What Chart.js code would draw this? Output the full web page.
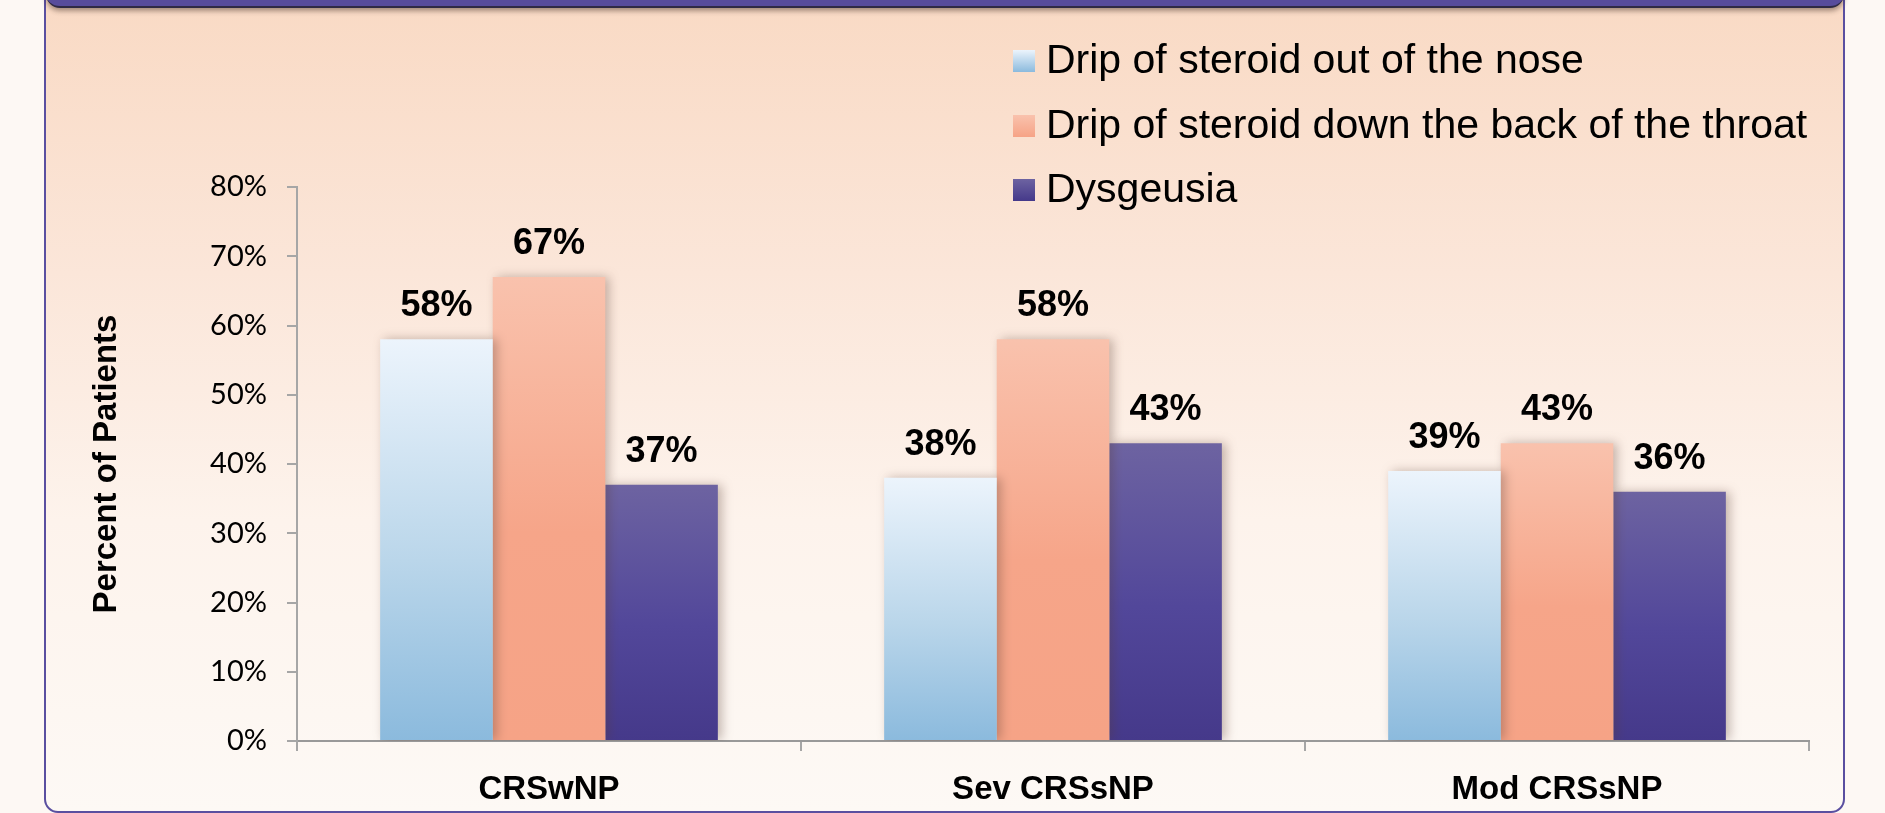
<!DOCTYPE html>
<html>
<head>
<meta charset="utf-8">
<script src="https://cdn.jsdelivr.net/npm/chart.js@4/dist/chart.umd.min.js"></script>
<style>
  html, body { margin: 0; padding: 0; }
  body { width: 1885px; height: 813px; overflow: hidden; background: #fdf8f4; position: relative; }
  .box {
    position: absolute; left: 44px; top: -20px; width: 1797px; height: 829px;
    border: 2.5px solid #5a4fa0; border-radius: 14px;
    background: linear-gradient(to bottom, #f9d9c3 0%, #fbe6d9 35%, #fdf3ec 65%, #fdf9f5 100%);
  }
  .header {
    position: absolute; left: 46px; top: -24px; width: 1798px; height: 30px;
    background: #574c9c; border-radius: 14px;
    border-bottom: 2px solid #2f2a45;
    box-shadow: 0 3px 5px rgba(60, 40, 30, 0.45);
  }
  .wrap { position: absolute; left: 0; top: 0; width: 1885px; height: 813px; }
</style>
</head>
<body>
<div class="box"></div>
<div class="header"></div>
<div class="wrap"><canvas id="myChart"></canvas></div>
<script>
const categories = ['CRSwNP', 'Sev CRSsNP', 'Mod CRSsNP'];
const seriesNames = ['Drip of steroid out of the nose', 'Drip of steroid down the back of the throat', 'Dysgeusia'];
const noseDrip = [58, 38, 39];
const throatDrip = [67, 58, 43];
const dysgeusia = [37, 43, 36];
const yTicks = [0, 10, 20, 30, 40, 50, 60, 70, 80];

// top / middle / bottom colours of each bar gradient
const blueStops = ['#ecf4fc', '#bad6ea', '#8bbadd'];
const orangeStops = ['#f9c2ad', '#f6a589', '#f6a386'];
const purpleStops = ['#6d63a1', '#52479a', '#45398a'];

function barGradient(stops) {
  return function(ctx) {
    const chart = ctx.chart;
    if (!chart.chartArea || ctx.type !== 'data') return stops[2];
    const y = chart.scales.y;
    const yTop = y.getPixelForValue(ctx.raw);
    const yBot = y.getPixelForValue(0);
    const g = chart.ctx.createLinearGradient(0, yTop, 0, yBot);
    g.addColorStop(0, stops[0]);
    g.addColorStop(0.55, stops[1]);
    g.addColorStop(1, stops[2]);
    return g;
  };
}

// soft drop shadow under each dataset's bars
const shadowPlugin = {
  id: 'shadow',
  beforeDatasetDraw(chart) {
    const c = chart.ctx;
    c.save();
    c.shadowColor = 'rgba(90, 60, 50, 0.35)';
    c.shadowBlur = 10;
    c.shadowOffsetX = 4;
    c.shadowOffsetY = 0;
  },
  afterDatasetDraw(chart) {
    chart.ctx.restore();
  }
};

const valueLabels = {
  id: 'valueLabels',
  afterDatasetsDraw(chart) {
    const c = chart.ctx;
    c.save();
    c.font = 'bold 36px "Liberation Sans", Arial, sans-serif';
    c.fillStyle = '#000';
    c.textAlign = 'center';
    c.textBaseline = 'alphabetic';
    chart.data.datasets.forEach(function(ds, i) {
      chart.getDatasetMeta(i).data.forEach(function(bar, j) {
        c.fillText(ds.data[j] + '%', bar.x, bar.y - 23);
      });
    });
    c.restore();
  }
};

const floatLegend = {
  id: 'floatLegend',
  afterDraw(chart) {
    const c = chart.ctx;
    const rows = [61, 126, 190];
    const stops = [blueStops, orangeStops, purpleStops];
    c.save();
    c.font = '41px "Liberation Sans", Arial, sans-serif';
    c.textBaseline = 'middle';
    c.fillStyle = '#000';
    chart.data.datasets.forEach(function(ds, i) {
      const y = rows[i];
      const g = c.createLinearGradient(0, y - 11, 0, y + 11);
      g.addColorStop(0, stops[i][0]);
      g.addColorStop(1, stops[i][2]);
      c.fillStyle = g;
      c.fillRect(1013, y - 11, 22, 22);
      c.fillStyle = '#000';
      c.fillText(ds.label, 1046, y + 1);
    });
    c.restore();
  }
};

const ctx = document.getElementById('myChart').getContext('2d');
const myChart = new Chart(ctx, {
  type: 'bar',
  data: {
    labels: categories,
    datasets: [
      { label: seriesNames[0], data: noseDrip, backgroundColor: barGradient(blueStops) },
      { label: seriesNames[1], data: throatDrip, backgroundColor: barGradient(orangeStops) },
      { label: seriesNames[2], data: dysgeusia, backgroundColor: barGradient(purpleStops) }
    ]
  },
  options: {
    responsive: true,
    maintainAspectRatio: false,
    animation: false,
    layout: { padding: { left: 0, right: 76, top: 187, bottom: 0 } },
    datasets: { bar: { categoryPercentage: 0.67, barPercentage: 1.0 } },
    plugins: {
      legend: { display: false },
      tooltip: { enabled: false }
    },
    scales: {
      x: {
        afterFit: function(scale) { scale.height = 72; },
        grid: { offset: true, drawOnChartArea: false, drawTicks: true, tickLength: 10, color: '#a6a6a6', lineWidth: 2 },
        border: { color: '#999999', width: 2 },
        ticks: {
          color: '#000',
          padding: 19,
          font: { family: '"Liberation Sans", Arial, sans-serif', size: 33, weight: 'bold' }
        }
      },
      y: {
        min: 0,
        max: 80,
        afterBuildTicks: function(scale) {
          scale.ticks = yTicks.map(function(v) { return { value: v }; });
        },
        afterFit: function(scale) { scale.width = 297; },
        grid: { drawOnChartArea: false, drawTicks: true, tickLength: 10, color: '#a6a6a6', lineWidth: 2 },
        border: { color: '#a6a6a6', width: 2 },
        ticks: {
          color: '#000',
          padding: 20,
          font: { family: 'Lato, "Liberation Sans", sans-serif', size: 29 },
          callback: function(v) { return v + '%'; }
        },
        title: {
          display: true,
          text: 'Percent of Patients',
          color: '#000',
          padding: { top: 87, bottom: 0 },
          font: { family: '"Liberation Sans", Arial, sans-serif', size: 33, weight: 'bold' }
        }
      }
    }
  },
  plugins: [shadowPlugin, valueLabels, floatLegend]
});
</script>
</body>
</html>
